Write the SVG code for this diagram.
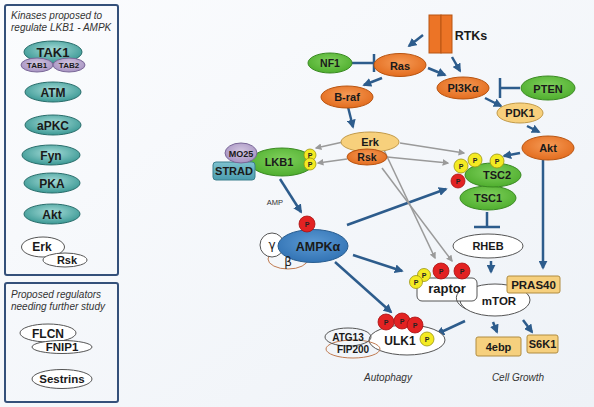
<svg xmlns="http://www.w3.org/2000/svg" width="594" height="407" viewBox="0 0 594 407">
<defs>
<linearGradient id="bg" x1="0" y1="0" x2="1" y2="1"><stop offset="0" stop-color="#fbfcfe"/><stop offset="1" stop-color="#eef2f7"/></linearGradient>
<radialGradient id="gTeal" cx="0.5" cy="0.4" r="0.6"><stop offset="0" stop-color="#a6dcd8"/><stop offset="1" stop-color="#3a9894"/></radialGradient>
<radialGradient id="gOrange" cx="0.5" cy="0.4" r="0.6"><stop offset="0" stop-color="#f59a55"/><stop offset="1" stop-color="#e36c1e"/></radialGradient>
<radialGradient id="gGreen" cx="0.5" cy="0.4" r="0.6"><stop offset="0" stop-color="#7fd05c"/><stop offset="1" stop-color="#4fae2e"/></radialGradient>
<radialGradient id="gBlue" cx="0.5" cy="0.4" r="0.6"><stop offset="0" stop-color="#5c9ad4"/><stop offset="1" stop-color="#3273b4"/></radialGradient>
<radialGradient id="gPurple" cx="0.5" cy="0.4" r="0.6"><stop offset="0" stop-color="#d2c6e0"/><stop offset="1" stop-color="#a792c2"/></radialGradient>
<linearGradient id="gStrad" x1="0" y1="0" x2="0" y2="1"><stop offset="0" stop-color="#7ec2cf"/><stop offset="1" stop-color="#4a9cae"/></linearGradient>
<marker id="ab" viewBox="0 0 10 10" refX="8" refY="5" markerWidth="3.6" markerHeight="3.6" orient="auto"><path d="M0,0 L10,5 L0,10 z" fill="#2d5c8c"/></marker>
<marker id="ag" viewBox="0 0 10 10" refX="8" refY="5" markerWidth="4.5" markerHeight="4.5" orient="auto"><path d="M0,0 L10,5 L0,10 z" fill="#9a9a9a"/></marker>
<style>
.t{font-family:"Liberation Sans","DejaVu Sans",sans-serif;font-weight:bold;fill:#1a1a1a;text-anchor:middle}
.it{font-family:"Liberation Sans","DejaVu Sans",sans-serif;font-style:italic;fill:#333;font-size:10px}
.teal{fill:url(#gTeal);stroke:#2a6e6c;stroke-width:1}
.orange{fill:url(#gOrange);stroke:#b85512;stroke-width:1}
.green{fill:url(#gGreen);stroke:#3a8a22;stroke-width:1}
.purple{fill:url(#gPurple);stroke:#7a6898;stroke-width:1}
.pale{fill:#f7d07c;stroke:#c29a48;stroke-width:1}
.box{fill:#f6d07e;stroke:#b08c40;stroke-width:1}
.white{fill:#ffffff;stroke:#555;stroke-width:1}
.wo{fill:none;stroke:#555;stroke-width:1}
.brown{fill:none;stroke:#c07a50;stroke-width:1}
.py{fill:#f4ea22;stroke:#9a9410;stroke-width:0.8}
.pr{fill:#e22222;stroke:#a81010;stroke-width:0.8}
.pt{font-family:"Liberation Sans","DejaVu Sans",sans-serif;font-weight:bold;font-size:7px;fill:#222;text-anchor:middle}
.panel{fill:none;stroke:#34507a;stroke-width:2}
.blue{stroke:#2d5c8c;stroke-width:2.5;fill:none;marker-end:url(#ab)}
.inh{stroke:#2d5c8c;stroke-width:2.5;fill:none}
.grey{stroke:#9a9a9a;stroke-width:1.5;fill:none;marker-end:url(#ag)}
</style>
</defs>
<rect width="594" height="407" fill="url(#bg)"/>

<g id="panel-kinases">
<rect class="panel" x="5" y="5" width="113" height="270" rx="2"/>
<text class="it" x="11" y="19">Kinases proposed to</text>
<text class="it" x="11" y="31">regulate LKB1 - AMPK</text>
</g>
<g id="TAK1"><ellipse class="teal" cx="53" cy="52" rx="29" ry="11"/><text class="t" x="53" y="57" font-size="13">TAK1</text>
<ellipse class="purple" cx="37" cy="65" rx="16" ry="7"/><text class="t" x="37" y="68" font-size="8">TAB1</text>
<ellipse class="purple" cx="69" cy="65" rx="16" ry="7"/><text class="t" x="69" y="68" font-size="8">TAB2</text></g>
<g id="ATM"><ellipse class="teal" cx="53" cy="92" rx="28" ry="10"/><text class="t" x="53" y="96.5" font-size="12">ATM</text></g>
<g id="aPKC"><ellipse class="teal" cx="53" cy="125" rx="28" ry="10"/><text class="t" x="53" y="129.5" font-size="12">aPKC</text></g>
<g id="Fyn"><ellipse class="teal" cx="51" cy="155" rx="29" ry="10"/><text class="t" x="51" y="159.5" font-size="12">Fyn</text></g>
<g id="PKA"><ellipse class="teal" cx="52" cy="183" rx="28" ry="10"/><text class="t" x="52" y="187.5" font-size="12">PKA</text></g>
<g id="Akt-k"><ellipse class="teal" cx="52" cy="214" rx="28" ry="10"/><text class="t" x="52" y="218.5" font-size="12">Akt</text></g>
<g id="ErkRsk-k"><ellipse class="white" cx="43" cy="247" rx="21.5" ry="10"/><text class="t" x="42" y="251" font-size="12">Erk</text>
<ellipse class="white" cx="65" cy="260" rx="22" ry="7"/><text class="t" x="67" y="264" font-size="11">Rsk</text></g>

<g id="panel-regulators">
<rect class="panel" x="5" y="283" width="113" height="119" rx="2"/>
<text class="it" x="11" y="298">Proposed regulators</text>
<text class="it" x="11" y="310">needing further study</text>
</g>
<g id="FLCN"><ellipse class="white" cx="48" cy="333" rx="28" ry="9"/><text class="t" x="48" y="337.5" font-size="12">FLCN</text>
<ellipse class="white" cx="62" cy="347" rx="30" ry="6.5"/><text class="t" x="62" y="351" font-size="11.5">FNIP1</text></g>
<g id="Sestrins"><ellipse class="white" cx="62" cy="379" rx="30" ry="9.5"/><text class="t" x="62" y="383" font-size="11.5">Sestrins</text></g>

<g id="connectors">
<line class="blue" x1="423" y1="35" x2="409" y2="46"/>
<line class="blue" x1="452" y1="57" x2="460" y2="71"/>
<line class="blue" x1="428" y1="68" x2="445" y2="75"/>
<line class="blue" x1="382" y1="78" x2="364" y2="85"/>
<line class="blue" x1="347" y1="103" x2="353" y2="127"/>
<line class="blue" x1="485" y1="98" x2="501" y2="106"/>
<line class="blue" x1="527" y1="126" x2="539" y2="132"/>
<line class="blue" x1="520" y1="153" x2="504" y2="156"/>
<line class="blue" x1="543" y1="160" x2="543" y2="268"/>
<line class="blue" x1="280" y1="179" x2="301" y2="212"/>
<line class="blue" x1="347" y1="225" x2="446" y2="189"/>
<line class="blue" x1="353" y1="255" x2="402" y2="271"/>
<line class="blue" x1="335" y1="262" x2="391" y2="312"/>
<line class="blue" x1="491" y1="261" x2="491" y2="272"/>
<line class="blue" x1="465" y1="321" x2="437" y2="334"/>
<line class="blue" x1="493" y1="322" x2="497" y2="332"/>
<line class="blue" x1="523" y1="320" x2="532" y2="332"/>
<path class="inh" d="M352,63 H374 M374,54 V72"/>
<path class="inh" d="M520,88 H500 M500,78 V98"/>
<path class="inh" d="M487,212 V227 M474,227 H500"/>
<line class="grey" x1="343" y1="142" x2="316" y2="148"/>
<line class="grey" x1="347" y1="159" x2="318" y2="163"/>
<line class="grey" x1="400" y1="143" x2="464" y2="153"/>
<line class="grey" x1="387" y1="157" x2="448" y2="163"/>
<line class="grey" x1="383" y1="148" x2="435" y2="258"/>
<line class="grey" x1="382" y1="168" x2="452" y2="261"/>
</g>

<g id="RTKs"><rect x="429" y="15" width="12" height="38" fill="#ec7426" stroke="#b85512"/><rect x="441" y="15" width="11" height="38" fill="#ec7426" stroke="#b85512"/><text class="t" x="471" y="40" font-size="12.5">RTKs</text></g>
<g id="NF1"><ellipse class="green" cx="330" cy="63" rx="22" ry="10"/><text class="t" x="330" y="67" font-size="10.5">NF1</text></g>
<g id="Ras"><ellipse class="orange" cx="400" cy="65" rx="26" ry="11.5"/><text class="t" x="400" y="69.5" font-size="11">Ras</text></g>
<g id="B-raf"><ellipse class="orange" cx="347" cy="97" rx="26" ry="11"/><text class="t" x="347" y="101" font-size="11">B-raf</text></g>
<g id="PI3K"><ellipse class="orange" cx="463" cy="88" rx="26" ry="11"/><text class="t" x="463" y="92" font-size="11" font-weight="normal">PI3Kα</text></g>
<g id="PTEN"><ellipse class="green" cx="548" cy="88" rx="27" ry="12"/><text class="t" x="548" y="92.5" font-size="11">PTEN</text></g>
<g id="PDK1"><ellipse class="pale" cx="520" cy="113" rx="23" ry="10"/><text class="t" x="520" y="117" font-size="11">PDK1</text></g>
<g id="Akt"><ellipse class="orange" cx="548" cy="148" rx="26" ry="12"/><text class="t" x="548" y="152" font-size="11" font-weight="normal">Akt</text></g>
<g id="Erk"><ellipse class="pale" cx="370" cy="142" rx="29" ry="10"/><text class="t" x="370" y="146" font-size="11">Erk</text></g>
<g id="Rsk"><ellipse class="orange" cx="367" cy="157" rx="20" ry="8"/><text class="t" x="367" y="161" font-size="10.5">Rsk</text></g>

<g id="LKB1">
<ellipse class="green" cx="282" cy="162" rx="32" ry="14"/>
<rect x="213" y="162" width="42" height="18" rx="3" fill="url(#gStrad)" stroke="#3a7e8c"/>
<text class="t" x="234" y="175" font-size="11">STRAD</text>
<ellipse class="purple" cx="241" cy="153" rx="16" ry="10"/>
<text class="t" x="241" y="156.5" font-size="9">MO25</text>
<text class="t" x="279" y="166" font-size="11">LKB1</text>
<circle class="py" cx="310" cy="155" r="6"/><text class="pt" x="310" y="157.5">P</text>
<circle class="py" cx="310" cy="164" r="6"/><text class="pt" x="310" y="166.5">P</text>
</g>

<g id="AMPK">
<text x="275" y="205" font-family="Liberation Sans, sans-serif" font-size="7.5" fill="#333" text-anchor="middle">AMP</text>
<ellipse class="brown" cx="288" cy="259" rx="20" ry="10"/>
<circle cx="272" cy="245" r="12" fill="#fff" stroke="#555"/>
<ellipse cx="313" cy="246" rx="35" ry="16.5" fill="url(#gBlue)" stroke="#2a5e90"/>
<text x="272" y="249" font-family="DejaVu Sans, sans-serif" font-size="12" fill="#222" text-anchor="middle">γ</text>
<text x="288" y="266" font-family="DejaVu Sans, sans-serif" font-size="12" fill="#222" text-anchor="middle">β</text>
<text class="t" x="318" y="251" font-size="12.5">AMPKα</text>
<circle class="pr" cx="307" cy="224" r="8"/><text class="pt" x="307" y="226.5">P</text>
</g>

<g id="TSC">
<ellipse class="green" cx="488" cy="198" rx="28" ry="12"/><text class="t" x="488" y="202" font-size="11">TSC1</text>
<ellipse class="green" cx="493" cy="175" rx="28" ry="12"/><text class="t" x="497" y="179" font-size="11">TSC2</text>
<circle class="py" cx="475" cy="160" r="7"/><text class="pt" x="475" y="162.5">P</text>
<circle class="py" cx="497" cy="161" r="7"/><text class="pt" x="497" y="163.5">P</text>
<circle class="py" cx="461" cy="166" r="7"/><text class="pt" x="461" y="168.5">P</text>
<circle class="pr" cx="458" cy="181" r="7"/><text class="pt" x="458" y="183.5">P</text>
</g>
<g id="RHEB"><ellipse class="white" cx="488" cy="246" rx="35" ry="12"/><text class="t" x="488" y="250" font-size="11">RHEB</text></g>

<g id="mTORC1">
<ellipse class="white" cx="495" cy="300" rx="35" ry="16"/>
<rect x="417" y="278" width="60" height="23" rx="5" fill="#fff" stroke="#555"/>
<path d="M461,290 A35,16 0 0,0 466,309" fill="none" stroke="#555"/>
<text class="t" x="447" y="293" font-size="13">raptor</text>
<text class="t" x="499" y="305" font-size="11.5">mTOR</text>
<circle class="pr" cx="441" cy="271" r="8"/><text class="pt" x="441" y="273.5">P</text>
<circle class="pr" cx="462" cy="271" r="8"/><text class="pt" x="462" y="273.5">P</text>
<circle class="py" cx="424" cy="275" r="6.5"/><text class="pt" x="424" y="277.5">P</text>
<circle class="py" cx="416" cy="282" r="6.5"/><text class="pt" x="416" y="284.5">P</text>
</g>
<g id="PRAS40"><rect class="box" x="507" y="276" width="53" height="17" rx="2"/><text class="t" x="533.5" y="289" font-size="11.5" font-weight="normal">PRAS40</text></g>
<g id="4ebp"><rect class="box" x="476" y="337" width="45" height="19" rx="2"/><text class="t" x="498.5" y="350.5" font-size="11">4ebp</text></g>
<g id="S6K1"><rect class="box" x="527" y="335" width="31" height="18" rx="2"/><text class="t" x="542.5" y="348" font-size="11">S6K1</text></g>

<g id="ULK1">
<ellipse class="white" cx="407" cy="340" rx="38" ry="15"/>
<ellipse class="brown" cx="353" cy="349" rx="27" ry="9"/>
<ellipse class="wo" cx="348" cy="337" rx="23" ry="9"/>
<text class="t" x="348" y="341" font-size="10" font-weight="normal">ATG13</text>
<text class="t" x="353" y="353" font-size="10" font-weight="normal">FIP200</text>
<text class="t" x="400" y="345" font-size="12">ULK1</text>
<circle class="pr" cx="386" cy="322" r="8"/><text class="pt" x="386" y="324.5">P</text>
<circle class="pr" cx="402" cy="321" r="8"/><text class="pt" x="402" y="323.5">P</text>
<circle class="pr" cx="415" cy="325" r="8"/><text class="pt" x="415" y="327.5">P</text>
<circle class="py" cx="427" cy="339" r="7"/><text class="pt" x="427" y="341.5">P</text>
</g>
<text class="it" x="388" y="381" text-anchor="middle" font-size="10">Autophagy</text>
<text class="it" x="518" y="381" text-anchor="middle" font-size="10">Cell Growth</text>
</svg>
